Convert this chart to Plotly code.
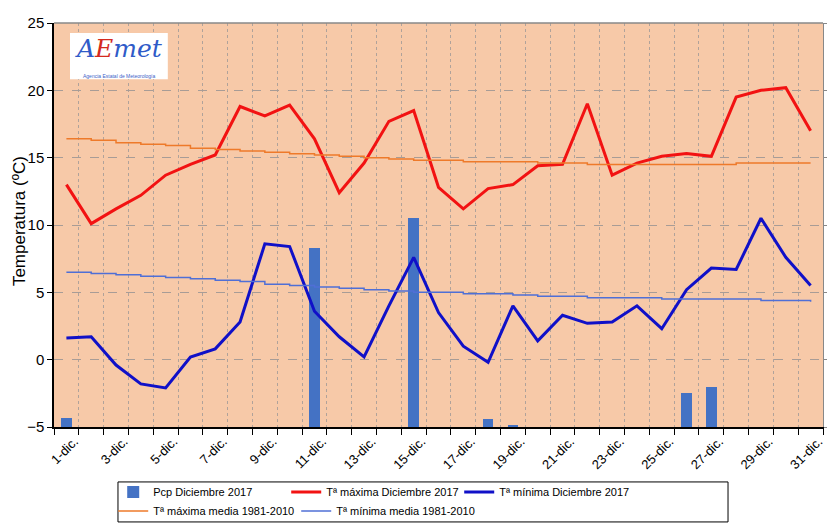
import plotly.graph_objects as go

days = [f"{d}-dic." for d in range(1, 32)]
tick_text = [d if i % 2 == 0 else "" for i, d in enumerate(days)]

pcp = [0.7, 0, 0, 0, 0, 0, 0, 0, 0, 0, 13.3, 0, 0, 0, 15.5, 0, 0, 0.6, 0.1, 0,
       0, 0, 0, 0, 0, 2.5, 3.0, 0, 0, 0, 0]

tmax = [13.0, 10.1, 11.2, 12.2, 13.7, 14.5, 15.2, 18.8, 18.1, 18.9, 16.4, 12.4,
        14.6, 17.7, 18.5, 12.8, 11.2, 12.7, 13.0, 14.4, 14.5, 19.0, 13.7, 14.6,
        15.1, 15.3, 15.1, 19.5, 20.0, 20.2, 17.0]

tmin = [1.6, 1.7, -0.4, -1.8, -2.1, 0.2, 0.8, 2.8, 8.6, 8.4, 3.6, 1.7, 0.2, 4.0,
        7.6, 3.5, 1.0, -0.2, 4.0, 1.4, 3.3, 2.7, 2.8, 4.0, 2.3, 5.2, 6.8, 6.7,
        10.5, 7.6, 5.5]

tmax_norm = [16.4, 16.3, 16.1, 16.0, 15.9, 15.7, 15.6, 15.5, 15.4, 15.3, 15.2,
             15.1, 15.0, 14.9, 14.8, 14.8, 14.7, 14.7, 14.7, 14.6, 14.6, 14.5,
             14.5, 14.5, 14.5, 14.5, 14.5, 14.6, 14.6, 14.6, 14.6]

tmin_norm = [6.5, 6.4, 6.3, 6.2, 6.1, 6.0, 5.9, 5.8, 5.6, 5.5, 5.4, 5.3, 5.2,
             5.1, 5.0, 5.0, 4.9, 4.9, 4.8, 4.7, 4.7, 4.6, 4.6, 4.6, 4.5, 4.5,
             4.5, 4.5, 4.4, 4.4, 4.3]

FONT = "Liberation Sans, Arial, sans-serif"

fig = go.Figure()
fig.add_trace(go.Bar(x=days, y=pcp, name="Pcp Diciembre 2017",
                     marker=dict(color="#4472C4", line=dict(width=0)),
                     width=0.42, yaxis="y", legend="legend"))
fig.add_trace(go.Scatter(x=days, y=tmax, name="Tª máxima Diciembre 2017",
                         mode="lines", line=dict(color="#F21212", width=3),
                         yaxis="y2", legend="legend"))
fig.add_trace(go.Scatter(x=days, y=tmin, name="Tª mínima Diciembre 2017",
                         mode="lines", line=dict(color="#1010C8", width=3),
                         yaxis="y2", legend="legend"))
fig.add_trace(go.Scatter(x=days, y=tmax_norm, name="Tª máxima media 1981-2010",
                         mode="lines", line=dict(color="#EE7A2A", width=1.5,
                                                 shape="hv"),
                         yaxis="y2", legend="legend2"))
fig.add_trace(go.Scatter(x=days, y=tmin_norm, name="Tª mínima media 1981-2010",
                         mode="lines", line=dict(color="#4F6FD6", width=1.5,
                                                 shape="hv"),
                         yaxis="y2", legend="legend2"))

legend_common = dict(orientation="h", xanchor="left", yanchor="middle",
                     borderwidth=0, bgcolor="rgba(0,0,0,0)",
                     font=dict(size=11, family=FONT), itemwidth=30,
                     tracegroupgap=0, entrywidthmode="pixels")

fig.update_layout(
    width=827, height=526,
    margin=dict(l=54, r=4, t=23, b=99, autoexpand=False),
    paper_bgcolor="white",
    plot_bgcolor="#F7C9A8",
    font=dict(family=FONT, color="black"),
    bargap=0,
    showlegend=True,
    legend=dict(x=0.077, y=-0.161, entrywidth=128, **legend_common),
    legend2=dict(x=0.077, y=-0.208, entrywidth=138, **legend_common),
    xaxis=dict(type="category", categoryorder="array", categoryarray=days,
               tickmode="array", tickvals=days, ticktext=tick_text,
               tickson="boundaries", ticks="outside", ticklen=6,
               tickcolor="black", tickangle=-45, ticklabelshift=8,
               tickfont=dict(size=13, family=FONT),
               showline=True, linecolor="black", linewidth=1.5,
               showgrid=True, gridcolor="#B0A29A", griddash="dot",
               gridwidth=1, range=[-0.5, 30.5]),
    yaxis=dict(side="right", range=[0, 30], dtick=5, showticklabels=False,
               ticks="outside", ticklen=5, tickcolor="#888888",
               showline=True, linecolor="#888888", linewidth=1,
               showgrid=False, zeroline=False),
    yaxis2=dict(overlaying="y", side="left", range=[-5, 25], dtick=5,
                ticks="outside", ticklen=5, tickcolor="black",
                ticklabelstandoff=0,
                tickfont=dict(size=15, family=FONT),
                showline=True, linecolor="black", linewidth=1.5,
                showgrid=True, gridcolor="#A89C96", griddash="dash",
                gridwidth=1, zeroline=False),
)

# y-axis title
fig.add_annotation(xref="paper", yref="paper", x=-0.044, y=0.51,
                   xanchor="center", yanchor="middle", showarrow=False,
                   textangle=-90, text="Temperatura (ºC)",
                   font=dict(size=17, family=FONT, color="black"))

# top border of plot area
fig.add_shape(type="line", xref="paper", yref="paper", x0=0, x1=1, y0=1, y1=1,
              line=dict(color="#888888", width=1.5))

# legend frame
fig.add_shape(type="rect", xref="paper", yref="paper",
              x0=0.0832, x1=0.8765, y0=-0.235, y1=-0.136,
              line=dict(color="black", width=1), fillcolor="rgba(0,0,0,0)")

# AEMET logo (as text)
fig.add_shape(type="rect", xref="paper", yref="paper",
              x0=0.0208, x1=0.148, y0=0.861, y1=0.975,
              fillcolor="white", line=dict(width=0), layer="above")
fig.add_annotation(xref="paper", yref="paper", x=0.084, y=0.978,
                   xanchor="center", yanchor="top", showarrow=False,
                   text="<i><span style='color:#2F5BC8'>A</span>"
                        "<span style='color:#D42A1E'>E</span>"
                        "<span style='color:#2F5BC8'>met</span></i>",
                   font=dict(size=25, family="DejaVu Serif"))
fig.add_annotation(xref="paper", yref="paper", x=0.084, y=0.868,
                   xanchor="center", yanchor="middle", showarrow=False,
                   text="Agencia Estatal de Meteorología",
                   font=dict(size=5, color="#3B62C8", family=FONT))

fig.write_html("out.html", config={"displayModeBar": False},
               post_script="document.body.style.margin='0';"
                           "document.body.style.overflow='hidden';")
